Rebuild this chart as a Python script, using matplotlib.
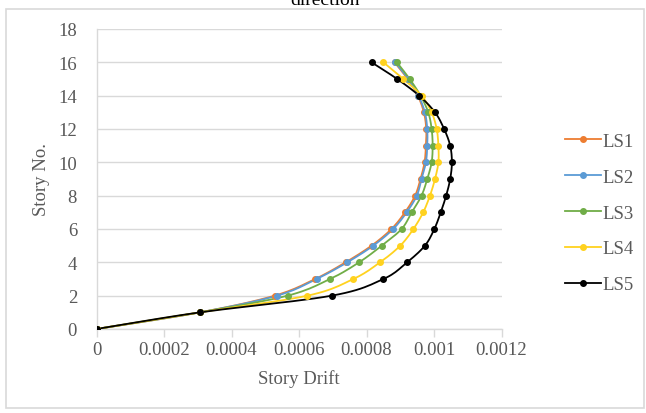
import numpy as np
import matplotlib
matplotlib.use("Agg")
import matplotlib.pyplot as plt
from matplotlib.patches import Rectangle

### story drift per load set, stories 0..16
stories = np.arange(0, 17)
labels = ["LS1", "LS2", "LS3", "LS4", "LS5"]
ls1 = [0, 0.000307, 0.000528, 0.000648, 0.000738, 0.000815, 0.000874, 0.000914, 0.000944,
       0.000960, 0.000972, 0.000976, 0.000977, 0.000970, 0.000952, 0.000922, 0.000883]
ls2 = [0, 0.000307, 0.000535, 0.000652, 0.000743, 0.000820, 0.000879, 0.000919, 0.000949,
       0.000963, 0.000976, 0.000980, 0.000980, 0.000973, 0.000954, 0.000924, 0.000885]
ls3 = [0, 0.000307, 0.000566, 0.000692, 0.000778, 0.000845, 0.000904, 0.000934, 0.000963,
       0.000980, 0.000993, 0.000996, 0.000993, 0.000983, 0.000960, 0.000928, 0.000890]
ls4 = [0, 0.000307, 0.000625, 0.000761, 0.000840, 0.000900, 0.000939, 0.000968, 0.000988,
       0.001003, 0.001013, 0.001013, 0.001008, 0.000993, 0.000963, 0.000909, 0.000850]
ls5 = [0, 0.000307, 0.000697, 0.000850, 0.000920, 0.000973, 0.001001, 0.001020, 0.001036,
       0.001048, 0.001053, 0.001048, 0.001030, 0.001003, 0.000956, 0.000891, 0.000815]
colors = ["#ED7D31", "#5B9BD5", "#70AD47", "#FFD21F", "#000000"]

xticks = [0, 0.0002, 0.0004, 0.0006, 0.0008, 0.001, 0.0012]
xticklabels = ["0", "0.0002", "0.0004", "0.0006", "0.0008", "0.001", "0.0012"]
yticks = np.arange(0, 19, 2)

W, H = 646, 414
XMAX, YMAX = 0.0012, 18


def smooth(x, y, n=12):
    # catmull-rom through the points, worked out in roughly screen-scaled units
    sx, sy = 405 / XMAX, 300 / YMAX
    p = np.column_stack([np.asarray(x) * sx, np.asarray(y) * sy])
    p = np.vstack([p[0], p, p[-1]])
    out = []
    t = np.linspace(0, 1, n, endpoint=False)[:, None]
    for i in range(1, len(p) - 2):
        p0, p1, p2, p3 = p[i - 1], p[i], p[i + 1], p[i + 2]
        seg = 0.5 * ((2 * p1) + (-p0 + p2) * t + (2 * p0 - 5 * p1 + 4 * p2 - p3) * t ** 2
                     + (-p0 + 3 * p1 - 3 * p2 + p3) * t ** 3)
        out.append(seg)
    out.append(p[-2][None, :])
    out = np.vstack(out)
    return out[:, 0] / sx, out[:, 1] / sy


plt.rcParams['font.family'] = ['Liberation Serif', 'DejaVu Serif']
fig = plt.figure(figsize=(W / 100, H / 100), dpi=100)
ax = fig.add_axes([96.5 / W, 1 - 330 / H, 405 / W, 300 / H])

txt = "#595959"
grid = "#D9D9D9"
for vals, c, lab in zip([ls1, ls2, ls3, ls4, ls5], colors, labels):
    sx_, sy_ = smooth(vals, stories)
    ax.plot(sx_, sy_, color=c, lw=1.3, zorder=3)
    ax.plot(vals, stories, ls='none', marker='o', ms=4.0, color=c, zorder=4)
    ax.plot([], [], color=c, lw=1.3, marker='o', ms=4.0, label=lab)

ax.set_xlim(0, XMAX)
ax.set_ylim(0, YMAX)
ax.set_xticks(xticks)
ax.set_xticklabels(xticklabels)
ax.set_yticks(yticks)
ax.yaxis.grid(True, color=grid, lw=1)
ax.set_axisbelow(True)
for s in ['top', 'right']:
    ax.spines[s].set_visible(False)
for s in ['left', 'bottom']:
    ax.spines[s].set_color(grid)
    ax.spines[s].set_linewidth(1)
ax.tick_params(axis='x', colors=grid, length=6, width=1, labelcolor=txt, labelsize=13.5, pad=3)
ax.tick_params(axis='y', length=0, labelcolor=txt, labelsize=13.5, pad=14)
ax.set_xlabel("Story Drift", color=txt, fontsize=13.5, labelpad=8)
ax.set_ylabel("Story No.", color=txt, fontsize=13.5, labelpad=6)

leg = fig.legend(loc='center left', bbox_to_anchor=(556 / W, 1 - 214 / H), frameon=False,
                 fontsize=13.5, handlelength=1.9, handletextpad=0.1, labelspacing=1.0,
                 borderpad=0)
for t in leg.get_texts():
    t.set_color(txt)

# chart frame and the clipped heading above it
fig.patches.append(Rectangle((6 / W, 5 / H), 638 / W, 399 / H, transform=fig.transFigure,
                             fill=False, edgecolor=grid, lw=1.2))
fig.text(325 / W, 1 - 5 / H, "direction", ha='center', va='baseline', fontsize=14, color='black')

fig.savefig("out.png", dpi=100)
